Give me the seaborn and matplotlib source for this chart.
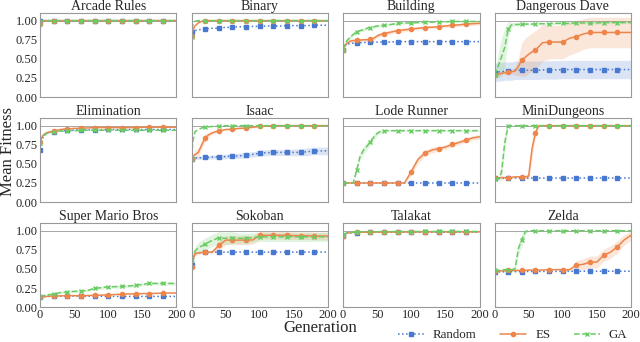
import numpy as np
import seaborn as sns
import matplotlib
matplotlib.use("Agg")
import matplotlib.pyplot as plt
from matplotlib.lines import Line2D

# generations at which the mean fitness was read
gens = [0, 2, 5, 10, 15, 20, 25, 30, 35, 40, 45, 50, 55, 60, 65, 70,
        80, 90, 100, 110, 120, 130, 140, 150, 160, 170, 180, 190, 200]

games = ["Arcade Rules", "Binary", "Building", "Dangerous Dave",
         "Elimination", "Isaac", "Lode Runner", "MiniDungeons",
         "Super Mario Bros", "Sokoban", "Talakat", "Zelda"]
methods = ["Random", "ES", "GA"]

# mean fitness per game (Random / ES / GA)
arcade_random = [0.99, 1.0, 1.0, 1.0, 1.0, 1.0, 1.0, 1.0, 1.0, 1.0, 1.0, 1.0, 1.0, 1.0, 1.0,
                 1.0, 1.0, 1.0, 1.0, 1.0, 1.0, 1.0, 1.0, 1.0, 1.0, 1.0, 1.0, 1.0, 1.0]
arcade_es = [0.95, 0.99, 1.0, 1.0, 1.0, 1.0, 1.0, 1.0, 1.0, 1.0, 1.0, 1.0, 1.0, 1.0, 1.0,
             1.0, 1.0, 1.0, 1.0, 1.0, 1.0, 1.0, 1.0, 1.0, 1.0, 1.0, 1.0, 1.0, 1.0]
arcade_ga = [0.97, 1.0, 1.0, 1.0, 1.0, 1.0, 1.0, 1.0, 1.0, 1.0, 1.0, 1.0, 1.0, 1.0, 1.0,
             1.0, 1.0, 1.0, 1.0, 1.0, 1.0, 1.0, 1.0, 1.0, 1.0, 1.0, 1.0, 1.0, 1.0]

binary_random = [0.85, 0.86, 0.87, 0.88, 0.885, 0.89, 0.895, 0.90, 0.90, 0.905, 0.91, 0.91, 0.912, 0.915,
                 0.918, 0.92, 0.92, 0.925, 0.925, 0.93, 0.93, 0.93, 0.935, 0.935, 0.935, 0.935, 0.94, 0.94, 0.94]
binary_es = [0.80, 0.87, 0.93, 0.97, 0.99, 1.0, 1.0, 1.0, 1.0, 1.0, 1.0, 1.0, 1.0, 1.0, 1.0,
             1.0, 1.0, 1.0, 1.0, 1.0, 1.0, 1.0, 1.0, 1.0, 1.0, 1.0, 1.0, 1.0, 1.0]
binary_ga = [0.78, 0.95, 0.99, 1.0, 1.0, 1.0, 1.0, 1.0, 1.0, 1.0, 1.0, 1.0, 1.0, 1.0, 1.0,
             1.0, 1.0, 1.0, 1.0, 1.0, 1.0, 1.0, 1.0, 1.0, 1.0, 1.0, 1.0, 1.0, 1.0]

building_random = [0.62, 0.66, 0.69, 0.70, 0.705, 0.71, 0.71, 0.715, 0.715, 0.72, 0.72, 0.72, 0.72, 0.72,
                   0.72, 0.72, 0.725, 0.725, 0.725, 0.725, 0.725, 0.725, 0.725, 0.725, 0.725, 0.725, 0.725, 0.725, 0.725]
building_es = [0.62, 0.66, 0.70, 0.73, 0.74, 0.74, 0.745, 0.75, 0.75, 0.755, 0.77, 0.80, 0.82, 0.83,
               0.84, 0.85, 0.87, 0.88, 0.89, 0.90, 0.91, 0.915, 0.92, 0.93, 0.94, 0.945, 0.955, 0.96, 0.965]
building_ga = [0.62, 0.68, 0.73, 0.78, 0.82, 0.855, 0.87, 0.88, 0.90, 0.91, 0.92, 0.93, 0.935, 0.94,
               0.945, 0.95, 0.965, 0.97, 0.97, 0.975, 0.98, 0.98, 0.985, 0.985, 0.99, 0.99, 0.99, 0.99, 0.99]

dave_random = [0.32, 0.32, 0.33, 0.33, 0.34, 0.34, 0.34, 0.35, 0.35, 0.35, 0.35, 0.35, 0.35, 0.35,
               0.35, 0.355, 0.355, 0.355, 0.36, 0.36, 0.36, 0.36, 0.36, 0.36, 0.36, 0.36, 0.36, 0.36, 0.36]
dave_es = [0.29, 0.29, 0.30, 0.31, 0.32, 0.33, 0.33, 0.34, 0.40, 0.49, 0.52, 0.56, 0.59, 0.62,
           0.66, 0.71, 0.72, 0.72, 0.72, 0.77, 0.79, 0.825, 0.845, 0.845, 0.845, 0.845, 0.845, 0.845, 0.845]
dave_ga = [0.29, 0.33, 0.40, 0.52, 0.65, 0.89, 0.945, 0.95, 0.95, 0.955, 0.955, 0.955, 0.955, 0.96,
           0.96, 0.96, 0.96, 0.965, 0.965, 0.965, 0.97, 0.97, 0.97, 0.97, 0.975, 0.975, 0.975, 0.975, 0.975]

elim_random = [0.68, 0.78, 0.86, 0.90, 0.915, 0.92, 0.93, 0.935, 0.935, 0.94, 0.94, 0.94, 0.945, 0.945,
               0.945, 0.945, 0.945, 0.945, 0.95, 0.95, 0.95, 0.95, 0.95, 0.95, 0.95, 0.95, 0.95, 0.95, 0.95]
elim_es = [0.79, 0.84, 0.88, 0.91, 0.92, 0.93, 0.94, 0.95, 0.955, 0.96, 0.96, 0.965, 0.965, 0.97,
           0.97, 0.97, 0.975, 0.975, 0.975, 0.975, 0.975, 0.975, 0.975, 0.98, 0.98, 0.98, 0.98, 0.98, 0.98]
elim_ga = [0.77, 0.83, 0.87, 0.90, 0.91, 0.92, 0.925, 0.93, 0.93, 0.935, 0.935, 0.935, 0.935, 0.94,
           0.94, 0.94, 0.94, 0.94, 0.94, 0.94, 0.94, 0.94, 0.94, 0.94, 0.94, 0.94, 0.94, 0.94, 0.94]

isaac_random = [0.57, 0.575, 0.575, 0.58, 0.58, 0.585, 0.585, 0.59, 0.59, 0.59, 0.595, 0.595, 0.60, 0.60,
                0.603, 0.605, 0.615, 0.625, 0.64, 0.645, 0.65, 0.65, 0.65, 0.65, 0.65, 0.66, 0.67, 0.67, 0.67]
isaac_es = [0.57, 0.60, 0.62, 0.65, 0.75, 0.84, 0.88, 0.905, 0.92, 0.935, 0.94, 0.95, 0.952, 0.955,
            0.96, 0.965, 0.97, 0.98, 0.99, 0.995, 1.0, 1.0, 1.0, 1.0, 1.0, 1.0, 1.0, 1.0, 1.0]
isaac_ga = [0.57, 0.80, 0.92, 0.95, 0.97, 0.98, 0.985, 0.99, 0.99, 0.995, 1.0, 1.0, 1.0, 1.0,
            1.0, 1.0, 1.0, 1.0, 1.0, 1.0, 1.0, 1.0, 1.0, 1.0, 1.0, 1.0, 1.0, 1.0, 1.0]

lode_random = [0.25, 0.25, 0.25, 0.25, 0.25, 0.25, 0.25, 0.25, 0.25, 0.25, 0.25, 0.25, 0.25, 0.25,
               0.25, 0.25, 0.25, 0.25, 0.25, 0.25, 0.25, 0.25, 0.25, 0.25, 0.25, 0.25, 0.25, 0.25, 0.25]
lode_es = [0.25, 0.25, 0.25, 0.25, 0.25, 0.25, 0.25, 0.25, 0.25, 0.25, 0.25, 0.25, 0.25, 0.25,
           0.25, 0.25, 0.25, 0.25, 0.40, 0.56, 0.64, 0.68, 0.70, 0.72, 0.755, 0.78, 0.81, 0.84, 0.855]
lode_ga = [0.25, 0.25, 0.25, 0.25, 0.25, 0.42, 0.60, 0.68, 0.73, 0.79, 0.85, 0.90, 0.925, 0.93,
           0.935, 0.935, 0.935, 0.935, 0.935, 0.935, 0.935, 0.935, 0.935, 0.935, 0.935, 0.935, 0.935, 0.935, 0.935]

mini_random = [0.31, 0.31, 0.31, 0.31, 0.31, 0.315, 0.315, 0.315, 0.315, 0.315, 0.315, 0.315, 0.315, 0.315,
               0.315, 0.315, 0.315, 0.315, 0.315, 0.315, 0.315, 0.315, 0.315, 0.315, 0.315, 0.315, 0.315, 0.315, 0.315]
mini_es = [0.31, 0.31, 0.315, 0.32, 0.32, 0.32, 0.325, 0.33, 0.33, 0.33, 0.33, 0.34, 0.70, 0.91,
           1.0, 1.0, 1.0, 1.0, 1.0, 1.0, 1.0, 1.0, 1.0, 1.0, 1.0, 1.0, 1.0, 1.0, 1.0]
mini_ga = [0.30, 0.30, 0.30, 0.38, 0.78, 1.0, 1.0, 1.0, 1.0, 1.0, 1.0, 1.0, 1.0, 1.0,
           1.0, 1.0, 1.0, 1.0, 1.0, 1.0, 1.0, 1.0, 1.0, 1.0, 1.0, 1.0, 1.0, 1.0, 1.0]

mario_random = [0.127, 0.13, 0.135, 0.14, 0.14, 0.142, 0.143, 0.144, 0.144, 0.145, 0.145, 0.145, 0.145, 0.145,
                0.144, 0.144, 0.143, 0.142, 0.141, 0.14, 0.14, 0.14, 0.14, 0.14, 0.14, 0.14, 0.14, 0.14, 0.14]
mario_es = [0.13, 0.132, 0.135, 0.14, 0.142, 0.145, 0.146, 0.147, 0.148, 0.15, 0.15, 0.15, 0.15, 0.15,
            0.15, 0.152, 0.155, 0.157, 0.16, 0.165, 0.17, 0.172, 0.174, 0.177, 0.178, 0.18, 0.183, 0.185, 0.185]
mario_ga = [0.13, 0.14, 0.15, 0.16, 0.165, 0.17, 0.18, 0.19, 0.195, 0.20, 0.203, 0.206, 0.208, 0.21,
            0.213, 0.22, 0.245, 0.255, 0.266, 0.268, 0.27, 0.277, 0.284, 0.297, 0.31, 0.31, 0.31, 0.31, 0.31]

sokoban_random = [0.55, 0.65, 0.70, 0.71, 0.715, 0.716, 0.72, 0.72, 0.72, 0.72, 0.72, 0.72, 0.72, 0.72,
                  0.72, 0.72, 0.72, 0.72, 0.72, 0.72, 0.72, 0.72, 0.72, 0.72, 0.72, 0.72, 0.72, 0.72, 0.72]
sokoban_es = [0.53, 0.62, 0.70, 0.71, 0.715, 0.716, 0.72, 0.72, 0.76, 0.81, 0.84, 0.877, 0.877, 0.877,
              0.877, 0.877, 0.877, 0.88, 0.94, 0.94, 0.94, 0.94, 0.94, 0.935, 0.935, 0.935, 0.93, 0.93, 0.93]
sokoban_ga = [0.615, 0.68, 0.73, 0.78, 0.80, 0.825, 0.85, 0.87, 0.89, 0.91, 0.905, 0.90, 0.905, 0.91,
              0.905, 0.90, 0.90, 0.91, 0.92, 0.92, 0.92, 0.92, 0.92, 0.92, 0.92, 0.92, 0.92, 0.92, 0.92]

talakat_random = [0.93, 0.95, 0.965, 0.97, 0.975, 0.975, 0.978, 0.98, 0.98, 0.98, 0.98, 0.98, 0.98, 0.98,
                  0.98, 0.98, 0.98, 0.98, 0.98, 0.98, 0.98, 0.98, 0.98, 0.98, 0.98, 0.98, 0.98, 0.98, 0.98]
talakat_es = [0.93, 0.95, 0.965, 0.975, 0.978, 0.98, 0.98, 0.98, 0.98, 0.98, 0.982, 0.982, 0.982, 0.982,
              0.983, 0.983, 0.983, 0.984, 0.984, 0.984, 0.985, 0.985, 0.985, 0.985, 0.985, 0.985, 0.985, 0.985, 0.985]
talakat_ga = [0.94, 0.96, 0.97, 0.98, 0.982, 0.985, 0.985, 0.986, 0.986, 0.987, 0.987, 0.987, 0.988, 0.988,
              0.988, 0.988, 0.989, 0.989, 0.989, 0.99, 0.99, 0.99, 0.99, 0.99, 0.99, 0.99, 0.99, 0.99, 0.99]

zelda_random = [0.46, 0.46, 0.46, 0.462, 0.462, 0.464, 0.464, 0.465, 0.465, 0.465, 0.466, 0.466, 0.466, 0.467,
                0.467, 0.467, 0.468, 0.468, 0.468, 0.469, 0.469, 0.47, 0.47, 0.47, 0.47, 0.47, 0.47, 0.47, 0.47]
zelda_es = [0.47, 0.47, 0.47, 0.475, 0.475, 0.48, 0.48, 0.48, 0.48, 0.48, 0.48, 0.485, 0.485, 0.485,
            0.485, 0.485, 0.49, 0.49, 0.49, 0.49, 0.55, 0.56, 0.59, 0.59, 0.68, 0.72, 0.79, 0.88, 0.94]
zelda_ga = [0.48, 0.48, 0.48, 0.485, 0.49, 0.49, 0.49, 0.50, 0.77, 0.88, 0.985, 1.0, 1.0, 1.0,
            1.0, 1.0, 1.0, 1.0, 1.0, 1.0, 1.0, 1.0, 1.0, 1.0, 1.0, 1.0, 1.0, 1.0, 1.0]

# half width of the shaded bands (only where one is visible)
dave_random_sd = [0.12, 0.12, 0.12, 0.12, 0.12, 0.12, 0.12, 0.12, 0.12, 0.12, 0.12, 0.12, 0.12, 0.12,
                  0.12, 0.12, 0.12, 0.12, 0.12, 0.12, 0.12, 0.12, 0.12, 0.12, 0.12, 0.12, 0.12, 0.12, 0.12]
dave_es_sd = [0.02, 0.02, 0.02, 0.02, 0.02, 0.02, 0.03, 0.05, 0.12, 0.22, 0.25, 0.25, 0.25, 0.25,
              0.25, 0.24, 0.22, 0.22, 0.22, 0.22, 0.21, 0.2, 0.2, 0.2, 0.2, 0.2, 0.2, 0.2, 0.2]
dave_ga_sd = [0.02, 0.08, 0.15, 0.25, 0.25, 0.1, 0.03, 0.02, 0.02, 0.015, 0.015, 0.015, 0.015, 0.015,
              0.015, 0.015, 0.015, 0.015, 0.015, 0.015, 0.015, 0.015, 0.015, 0.015, 0.015, 0.015, 0.015, 0.015, 0.015]
building_es_sd = [0.01, 0.01, 0.015, 0.02, 0.02, 0.02, 0.02, 0.02, 0.02, 0.02, 0.025, 0.025, 0.025, 0.025,
                  0.025, 0.025, 0.025, 0.025, 0.02, 0.02, 0.02, 0.02, 0.02, 0.02, 0.02, 0.02, 0.02, 0.02, 0.02]
building_ga_sd = [0.01, 0.02, 0.02, 0.02, 0.02, 0.02, 0.02, 0.02, 0.02, 0.02, 0.02, 0.02, 0.015, 0.015,
                  0.015, 0.015, 0.015, 0.015, 0.01, 0.01, 0.01, 0.01, 0.01, 0.01, 0.01, 0.01, 0.01, 0.01, 0.01]
isaac_random_sd = [0.01, 0.01, 0.015, 0.02, 0.02, 0.02, 0.025, 0.025, 0.025, 0.03, 0.03, 0.03, 0.03, 0.03,
                   0.03, 0.035, 0.035, 0.035, 0.04, 0.04, 0.04, 0.04, 0.04, 0.045, 0.045, 0.05, 0.05, 0.05, 0.05]
isaac_es_sd = [0.01, 0.03, 0.05, 0.06, 0.06, 0.05, 0.03, 0.02, 0.02, 0.015, 0.015, 0.01, 0.01, 0.01,
               0.01, 0.01, 0.01, 0.01, 0.005, 0.005, 0.0, 0.0, 0.0, 0.0, 0.0, 0.0, 0.0, 0.0, 0.0]
lode_es_sd = [0.0, 0.0, 0.0, 0.0, 0.0, 0.0, 0.0, 0.0, 0.0, 0.0, 0.0, 0.0, 0.0, 0.0,
              0.0, 0.0, 0.0, 0.01, 0.05, 0.05, 0.04, 0.04, 0.03, 0.03, 0.03, 0.03, 0.03, 0.03, 0.03]
lode_ga_sd = [0.0, 0.0, 0.0, 0.0, 0.01, 0.04, 0.05, 0.05, 0.05, 0.04, 0.04, 0.03, 0.02, 0.015,
              0.01, 0.01, 0.01, 0.01, 0.01, 0.01, 0.01, 0.01, 0.01, 0.01, 0.01, 0.01, 0.01, 0.01, 0.01]
mini_es_sd = [0.0, 0.0, 0.0, 0.0, 0.0, 0.01, 0.01, 0.01, 0.01, 0.01, 0.02, 0.05, 0.12, 0.06,
              0.0, 0.0, 0.0, 0.0, 0.0, 0.0, 0.0, 0.0, 0.0, 0.0, 0.0, 0.0, 0.0, 0.0, 0.0]
mini_ga_sd = [0.0, 0.0, 0.02, 0.1, 0.12, 0.0, 0.0, 0.0, 0.0, 0.0, 0.0, 0.0, 0.0, 0.0,
              0.0, 0.0, 0.0, 0.0, 0.0, 0.0, 0.0, 0.0, 0.0, 0.0, 0.0, 0.0, 0.0, 0.0, 0.0]
mario_ga_sd = [0.005, 0.01, 0.01, 0.01, 0.015, 0.015, 0.015, 0.015, 0.015, 0.015, 0.015, 0.015, 0.015, 0.015,
               0.015, 0.015, 0.02, 0.02, 0.02, 0.02, 0.02, 0.02, 0.02, 0.02, 0.02, 0.02, 0.02, 0.02, 0.02]
sokoban_es_sd = [0.02, 0.03, 0.03, 0.02, 0.02, 0.02, 0.02, 0.02, 0.04, 0.06, 0.06, 0.06, 0.06, 0.06,
                 0.06, 0.06, 0.06, 0.06, 0.05, 0.05, 0.05, 0.05, 0.05, 0.05, 0.05, 0.05, 0.05, 0.05, 0.05]
sokoban_ga_sd = [0.03, 0.05, 0.06, 0.07, 0.08, 0.08, 0.08, 0.08, 0.08, 0.08, 0.08, 0.08, 0.08, 0.08,
                 0.07, 0.07, 0.07, 0.06, 0.06, 0.06, 0.06, 0.06, 0.06, 0.06, 0.06, 0.06, 0.06, 0.06, 0.06]
zelda_es_sd = [0.0, 0.0, 0.0, 0.0, 0.0, 0.0, 0.0, 0.0, 0.0, 0.0, 0.0, 0.0, 0.0, 0.0,
               0.0, 0.0, 0.0, 0.0, 0.0, 0.01, 0.06, 0.07, 0.08, 0.08, 0.08, 0.08, 0.08, 0.07, 0.06]
zelda_ga_sd = [0.0, 0.0, 0.01, 0.01, 0.01, 0.01, 0.02, 0.04, 0.08, 0.08, 0.04, 0.0, 0.0, 0.0,
               0.0, 0.0, 0.0, 0.0, 0.0, 0.0, 0.0, 0.0, 0.0, 0.0, 0.0, 0.0, 0.0, 0.0, 0.0]

means = {
    "Arcade Rules": [arcade_random, arcade_es, arcade_ga],
    "Binary": [binary_random, binary_es, binary_ga],
    "Building": [building_random, building_es, building_ga],
    "Dangerous Dave": [dave_random, dave_es, dave_ga],
    "Elimination": [elim_random, elim_es, elim_ga],
    "Isaac": [isaac_random, isaac_es, isaac_ga],
    "Lode Runner": [lode_random, lode_es, lode_ga],
    "MiniDungeons": [mini_random, mini_es, mini_ga],
    "Super Mario Bros": [mario_random, mario_es, mario_ga],
    "Sokoban": [sokoban_random, sokoban_es, sokoban_ga],
    "Talakat": [talakat_random, talakat_es, talakat_ga],
    "Zelda": [zelda_random, zelda_es, zelda_ga],
}
bands = {
    "Dangerous Dave": [dave_random_sd, dave_es_sd, dave_ga_sd],
    "Building": [None, building_es_sd, building_ga_sd],
    "Isaac": [isaac_random_sd, isaac_es_sd, None],
    "Lode Runner": [None, lode_es_sd, lode_ga_sd],
    "MiniDungeons": [None, mini_es_sd, mini_ga_sd],
    "Super Mario Bros": [None, None, mario_ga_sd],
    "Sokoban": [None, sokoban_es_sd, sokoban_ga_sd],
    "Zelda": [None, zelda_es_sd, zelda_ga_sd],
}

sns.set_style("white")
plt.rcParams["font.family"] = ["Liberation Serif", "DejaVu Serif"]
plt.rcParams["axes.edgecolor"] = "0.6"

colors = sns.color_palette("muted")[:3]
styles = [":", "-", "--"]
markers = ["s", "o", "x"]
mark_idx = [i for i, g in enumerate(gens) if g % 20 == 0 and g < 200]

fig, axes = plt.subplots(3, 4, figsize=(6.4, 3.42), dpi=100, sharex=True, sharey=True)
fig.subplots_adjust(left=0.0625, right=0.986, top=0.962, bottom=0.102, wspace=0.11, hspace=0.25)

for ax, game in zip(axes.flat, games):
    ax.axhline(1.0, color="0.65", lw=0.7, zorder=0)
    for k, m in enumerate(methods):
        y = np.array(means[game][k])
        sd = bands.get(game, [None] * 3)[k]
        if sd is not None:
            sd = np.array(sd)
            ax.fill_between(gens, y - sd, y + sd, color=colors[k], alpha=0.2, lw=0)
        sns.lineplot(x=gens, y=y, ax=ax, color=colors[k], linestyle=styles[k],
                     marker=markers[k], markevery=mark_idx, markersize=3,
                     mec=colors[k], mew=1, lw=1.1, errorbar=None, legend=False)
    ax.set_title(game, fontsize=10, pad=2)
    ax.set_xlim(0, 200)
    ax.set_ylim(0, 1.1)
    ax.set_xticks([0, 50, 100, 150, 200])
    ax.set_yticks([0, 0.25, 0.5, 0.75, 1.0])
    ax.set_yticklabels(["0.00", "0.25", "0.50", "0.75", "1.00"])
    ax.tick_params(labelsize=9, length=0, pad=1.5)
    ax.set_xlabel("")
    ax.set_ylabel("")
    for s in ax.spines.values():
        s.set_linewidth(0.8)

fig.text(0.013, 0.556, "Mean Fitness", rotation=90, ha="center", va="center", fontsize=12)
fig.text(0.5, 0.041, "Generation", ha="center", va="center", fontsize=12)

handles = [Line2D([], [], color=colors[k], linestyle=styles[k], marker=markers[k],
                  markersize=3, mec=colors[k], mew=1, lw=1.1) for k in range(3)]
fig.legend(handles, methods, loc="center", bbox_to_anchor=(0.801, 0.02), ncol=3,
           frameon=False, fontsize=9.3, handlelength=2.0, columnspacing=1.85,
           handletextpad=0.7, borderpad=0)

fig.savefig("out.png", dpi=100)
